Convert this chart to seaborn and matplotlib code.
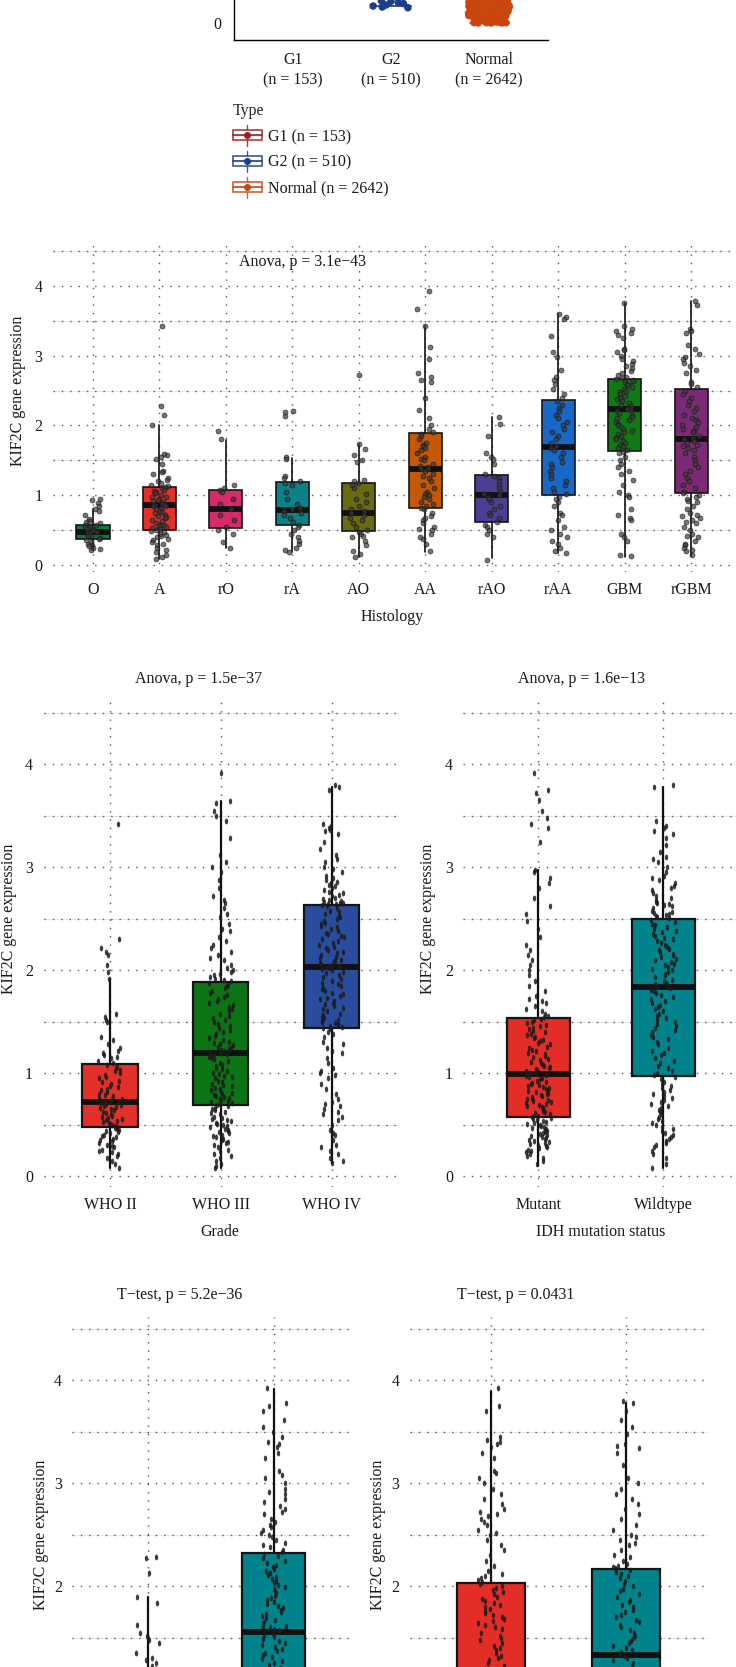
import numpy as np
import pandas as pd
import matplotlib
matplotlib.use('Agg')
import matplotlib.pyplot as plt
import seaborn as sns
from matplotlib.path import Path
from matplotlib.transforms import Affine2D
from matplotlib.legend_handler import HandlerBase
from matplotlib.lines import Line2D
from matplotlib.patches import Rectangle

# ---------------- data ----------------
top_names = ['G1', 'G2', 'Normal']
top_counts = [153, 510, 2642]
top_colors = ['#9b1c1f', '#1c3c8c', '#c9460f']
top_q1 = [1.8, 1.6, 0.9]
top_med = [2.6, 2.5, 1.6]
top_q3 = [3.6, 3.5, 2.6]
top_lo = [1.1, 0.5, 0.0]
top_hi = [6.0, 6.0, 4.5]
top_g1 = [1.2, 1.5, 1.8, 2.2, 2.6, 3.0, 3.5, 4.2]
top_g2 = [0.65, 0.64, 0.6, 0.57, 0.53, 0.5, 0.47, 0.45, 0.9, 1.2, 1.6, 2.0, 2.5, 3.0]
top_normal = [0.0, 0.0, 0.01, 0.01, 0.02, 0.02, 0.03, 0.04, 0.04, 0.05, 0.06, 0.07, 0.08, 0.09,
              0.1, 0.11, 0.12, 0.13, 0.14, 0.15, 0.16, 0.17, 0.18, 0.19, 0.2, 0.21, 0.22, 0.23,
              0.24, 0.25, 0.26, 0.27, 0.28, 0.29, 0.3, 0.31, 0.32, 0.33, 0.34, 0.35, 0.36, 0.37,
              0.38, 0.39, 0.4, 0.41, 0.42, 0.43, 0.44, 0.45, 0.46, 0.47, 0.48, 0.49, 0.5, 0.51,
              0.52, 0.53, 0.54, 0.55, 0.56, 0.57, 0.58, 0.59, 0.6, 0.61, 0.62, 0.63, 0.64, 0.65,
              0.66, 0.67, 0.68, 0.69, 0.7, 0.71, 0.72, 0.73, 0.74, 0.75, 0.0, 0.03, 0.06, 0.1,
              0.14, 0.18, 0.22, 0.26, 0.3, 0.34, 0.38, 0.42, 0.46, 0.5, 0.54, 0.58, 0.62, 0.66,
              0.7, 0.74, 0.02, 0.08, 0.16, 0.24, 0.32, 0.44, 0.52, 0.64, 0.72, 0.8, 0.9, 1.0,
              0.01, 0.05, 0.09, 0.13, 0.17, 0.21, 0.25, 0.29, 0.33, 0.37, 0.41, 0.45, 0.49, 0.53,
              0.57, 0.61, 0.65, 0.69, 0.73, 0.04, 0.12, 0.2, 0.28, 0.36, 0.48, 0.56, 0.6, 0.68]

hist_names = ['O', 'A', 'rO', 'rA', 'AO', 'AA', 'rAO', 'rAA', 'GBM', 'rGBM']
hist_colors = ['#0a7a3c', '#e3302a', '#d62a6a', '#0c8189', '#6a6a12',
               '#c45807', '#4b3f93', '#1868c8', '#0f7a14', '#7c2a76']
hist_q1 = [0.37, 0.50, 0.53, 0.57, 0.49, 0.82, 0.62, 1.00, 1.63, 1.03]
hist_med = [0.48, 0.86, 0.80, 0.79, 0.75, 1.37, 1.01, 1.69, 2.23, 1.80]
hist_q3 = [0.58, 1.12, 1.07, 1.19, 1.18, 1.89, 1.29, 2.37, 2.66, 2.52]
hist_lo = [0.21, 0.08, 0.25, 0.19, 0.12, 0.19, 0.10, 0.17, 0.12, 0.13]
hist_hi = [0.80, 2.00, 1.79, 1.53, 1.74, 3.43, 2.12, 3.60, 3.75, 3.78]
hist_O = [0.95, 0.93, 0.89, 0.85, 0.80, 0.78, 0.72, 0.66, 0.63, 0.62, 0.60, 0.58, 0.57, 0.55,
          0.54, 0.52, 0.51, 0.50, 0.49, 0.48, 0.47, 0.46, 0.45, 0.44, 0.42, 0.41, 0.39, 0.38,
          0.36, 0.33, 0.30, 0.28, 0.27, 0.25, 0.23, 0.21]
hist_A = [3.42, 2.28, 2.15, 2.0, 1.59, 1.57, 1.55, 1.52, 1.45, 1.35, 1.33, 1.30, 1.25, 1.22,
          1.20, 1.18, 1.15, 1.13, 1.12, 1.10, 1.08, 1.06, 1.05, 1.03, 1.0, 0.98, 0.97, 0.95,
          0.93, 0.92, 0.90, 0.88, 0.87, 0.86, 0.86, 0.85, 0.84, 0.82, 0.80, 0.78, 0.76, 0.74,
          0.72, 0.70, 0.69, 0.67, 0.65, 0.63, 0.60, 0.58, 0.57, 0.56, 0.55, 0.53, 0.52, 0.50,
          0.49, 0.47, 0.45, 0.43, 0.42, 0.40, 0.38, 0.36, 0.33, 0.30, 0.28, 0.25, 0.22, 0.18,
          0.15, 0.12, 0.08]
hist_rO = [1.92, 1.80, 1.15, 1.10, 1.08, 1.05, 0.95, 0.88, 0.80, 0.72, 0.65, 0.55, 0.50, 0.45,
           0.33, 0.25]
hist_rA = [2.20, 2.19, 2.14, 1.55, 1.52, 1.28, 1.25, 1.20, 1.18, 1.15, 1.05, 0.95, 0.88, 0.82,
           0.80, 0.78, 0.75, 0.72, 0.68, 0.62, 0.58, 0.55, 0.50, 0.45, 0.40, 0.35, 0.30, 0.25,
           0.22, 0.19]
hist_AO = [2.73, 1.74, 1.66, 1.58, 1.50, 1.48, 1.22, 1.20, 1.18, 1.15, 1.10, 1.02, 0.95, 0.90,
           0.85, 0.80, 0.77, 0.75, 0.72, 0.68, 0.65, 0.60, 0.55, 0.50, 0.48, 0.45, 0.42, 0.40,
           0.35, 0.28, 0.20, 0.16, 0.12]
hist_AA = [3.92, 3.67, 3.43, 3.12, 2.95, 2.75, 2.70, 2.65, 2.62, 2.40, 2.22, 2.10, 2.0, 1.95,
           1.90, 1.88, 1.85, 1.80, 1.75, 1.72, 1.70, 1.68, 1.65, 1.60, 1.55, 1.52, 1.50, 1.45,
           1.42, 1.40, 1.38, 1.37, 1.35, 1.30, 1.28, 1.25, 1.20, 1.15, 1.10, 1.05, 1.02, 1.0,
           0.98, 0.95, 0.90, 0.88, 0.85, 0.82, 0.80, 0.75, 0.70, 0.68, 0.65, 0.60, 0.55, 0.52,
           0.50, 0.45, 0.40, 0.38, 0.30, 0.20]
hist_rAO = [2.12, 2.02, 1.85, 1.60, 1.55, 1.52, 1.45, 1.30, 1.28, 1.25, 1.20, 1.15, 1.10, 1.05,
            1.02, 1.0, 0.98, 0.95, 0.90, 0.85, 0.80, 0.75, 0.72, 0.68, 0.62, 0.58, 0.55, 0.50,
            0.45, 0.40, 0.07]
hist_rAA = [3.60, 3.55, 3.52, 3.28, 3.05, 2.98, 2.80, 2.70, 2.65, 2.60, 2.52, 2.45, 2.40, 2.35,
            2.30, 2.25, 2.20, 2.15, 2.10, 2.05, 2.0, 1.95, 1.90, 1.85, 1.80, 1.75, 1.70, 1.68,
            1.65, 1.60, 1.55, 1.48, 1.45, 1.40, 1.35, 1.30, 1.25, 1.20, 1.15, 1.10, 1.05, 1.02,
            0.98, 0.95, 0.90, 0.85, 0.75, 0.72, 0.65, 0.55, 0.50, 0.45, 0.40, 0.35, 0.30, 0.25,
            0.20, 0.17]
hist_GBM = [3.75, 3.42, 3.38, 3.35, 3.32, 3.30, 3.25, 3.10, 3.08, 3.05, 3.0, 2.95, 2.92, 2.88,
            2.85, 2.82, 2.78, 2.75, 2.72, 2.70, 2.68, 2.66, 2.65, 2.63, 2.62, 2.60, 2.58, 2.55,
            2.52, 2.50, 2.48, 2.45, 2.42, 2.40, 2.38, 2.35, 2.32, 2.30, 2.28, 2.25, 2.23, 2.22,
            2.20, 2.18, 2.15, 2.12, 2.10, 2.08, 2.05, 2.02, 2.0, 1.98, 1.95, 1.92, 1.90, 1.88,
            1.85, 1.82, 1.80, 1.78, 1.75, 1.72, 1.70, 1.68, 1.65, 1.62, 1.60, 1.55, 1.50, 1.45,
            1.40, 1.35, 1.30, 1.22, 1.15, 1.05, 1.0, 0.98, 0.80, 0.72, 0.68, 0.65, 0.45, 0.40,
            0.35, 0.15, 0.13]
hist_rGBM = [3.78, 3.72, 3.38, 3.35, 3.32, 3.15, 3.10, 3.02, 2.98, 2.95, 2.90, 2.85, 2.80, 2.75,
             2.62, 2.60, 2.55, 2.50, 2.45, 2.40, 2.35, 2.30, 2.25, 2.20, 2.15, 2.10, 2.08, 2.05,
             2.0, 1.98, 1.95, 1.92, 1.90, 1.85, 1.82, 1.80, 1.78, 1.75, 1.72, 1.70, 1.68, 1.65,
             1.60, 1.55, 1.50, 1.45, 1.40, 1.35, 1.30, 1.25, 1.20, 1.15, 1.10, 1.05, 1.03, 1.0,
             0.98, 0.95, 0.92, 0.90, 0.85, 0.80, 0.75, 0.72, 0.70, 0.68, 0.65, 0.62, 0.60, 0.55,
             0.50, 0.45, 0.42, 0.40, 0.35, 0.30, 0.28, 0.25, 0.22, 0.20, 0.15]
hist_values = [hist_O, hist_A, hist_rO, hist_rA, hist_AO, hist_AA, hist_rAO, hist_rAA,
               hist_GBM, hist_rGBM]

grade_names = ['WHO II', 'WHO III', 'WHO IV']
grade_colors = ['#e3302a', '#0b7414', '#2a4c9c']
grade_q1 = [0.48, 0.69, 1.44]
grade_med = [0.72, 1.20, 2.03]
grade_q3 = [1.09, 1.89, 2.63]
grade_lo = [0.08, 0.08, 0.13]
grade_hi = [1.92, 3.64, 3.78]
who2 = [3.42, 2.30, 2.22, 2.18, 2.15, 2.05, 1.98, 1.92, 1.58, 1.55, 1.52, 1.50, 1.35, 1.32,
        1.28, 1.25, 1.22, 1.20, 1.18, 1.16, 1.15, 1.12, 1.10, 1.08, 1.06, 1.05, 1.03, 1.02,
        1.0, 0.98, 0.96, 0.95, 0.93, 0.92, 0.90, 0.88, 0.87, 0.85, 0.84, 0.82, 0.80, 0.79,
        0.78, 0.76, 0.75, 0.74, 0.73, 0.72, 0.71, 0.70, 0.69, 0.68, 0.67, 0.66, 0.65, 0.64,
        0.62, 0.61, 0.60, 0.59, 0.58, 0.57, 0.56, 0.55, 0.54, 0.53, 0.52, 0.51, 0.50, 0.49,
        0.48, 0.47, 0.46, 0.45, 0.44, 0.43, 0.42, 0.40, 0.39, 0.38, 0.36, 0.35, 0.34, 0.32,
        0.30, 0.29, 0.28, 0.26, 0.25, 0.24, 0.22, 0.20, 0.18, 0.15, 0.12, 0.08]
who3 = [3.92, 3.64, 3.62, 3.55, 3.50, 3.45, 3.28, 3.12, 3.05, 3.0, 2.95, 2.88, 2.80, 2.72,
        2.68, 2.65, 2.60, 2.55, 2.52, 2.45, 2.40, 2.38, 2.32, 2.28, 2.25, 2.22, 2.18, 2.15,
        2.12, 2.10, 2.05, 2.02, 2.0, 1.98, 1.96, 1.95, 1.93, 1.92, 1.91, 1.90,
        1.88, 1.86, 1.85, 1.83, 1.80, 1.78, 1.76, 1.74, 1.72, 1.70, 1.68, 1.66, 1.64, 1.62,
        1.60, 1.58, 1.56, 1.54, 1.52, 1.50, 1.48, 1.46, 1.44, 1.42, 1.40, 1.38, 1.36, 1.34,
        1.32, 1.30, 1.29, 1.28, 1.27, 1.26, 1.25, 1.24, 1.23, 1.22, 1.21, 1.20,
        1.19, 1.18, 1.17, 1.16, 1.15, 1.14, 1.12, 1.10, 1.08, 1.07, 1.05, 1.04, 1.02, 1.0,
        0.99, 0.97, 0.96, 0.95, 0.93, 0.92, 0.90, 0.89, 0.88, 0.86, 0.85, 0.84, 0.82, 0.81,
        0.80, 0.79, 0.78, 0.77, 0.76, 0.75, 0.74, 0.73, 0.72, 0.71, 0.70, 0.69,
        0.68, 0.66, 0.65, 0.64, 0.62, 0.61, 0.60, 0.58, 0.57, 0.56, 0.55, 0.54, 0.52, 0.51,
        0.50, 0.49, 0.48, 0.46, 0.45, 0.44, 0.43, 0.42, 0.40, 0.39, 0.38, 0.36, 0.35, 0.33,
        0.32, 0.30, 0.28, 0.26, 0.25, 0.22, 0.20, 0.18, 0.15, 0.12, 0.10, 0.08]
who4 = [3.80, 3.78, 3.75, 3.42, 3.40, 3.38, 3.36, 3.35, 3.32, 3.25, 3.18, 3.12, 3.08, 3.05,
        3.0, 2.98, 2.95, 2.92, 2.90, 2.88, 2.86, 2.85, 2.83, 2.82, 2.80, 2.78, 2.76, 2.75,
        2.73, 2.72, 2.70, 2.69, 2.68, 2.67, 2.66, 2.65, 2.65, 2.64, 2.64, 2.63,
        2.62, 2.60, 2.58, 2.57, 2.55, 2.53, 2.52, 2.50, 2.48, 2.46, 2.45, 2.43, 2.42, 2.40,
        2.38, 2.36, 2.35, 2.33, 2.32, 2.30, 2.28, 2.26, 2.25, 2.23, 2.22, 2.20, 2.18, 2.17,
        2.15, 2.13, 2.12, 2.10, 2.09, 2.08, 2.07, 2.06, 2.05, 2.04, 2.04, 2.03,
        2.02, 2.01, 2.0, 1.98, 1.97, 1.95, 1.93, 1.92, 1.90, 1.88, 1.87, 1.85, 1.83, 1.82,
        1.80, 1.78, 1.77, 1.75, 1.73, 1.72, 1.70, 1.68, 1.67, 1.65, 1.63, 1.62, 1.60, 1.58,
        1.57, 1.55, 1.54, 1.52, 1.51, 1.50, 1.49, 1.48, 1.47, 1.46, 1.45, 1.44,
        1.43, 1.40, 1.38, 1.35, 1.30, 1.28, 1.25, 1.22, 1.20, 1.15, 1.10, 1.05, 1.02, 1.0,
        0.98, 0.95, 0.90, 0.85, 0.80, 0.75, 0.72, 0.70, 0.68, 0.65, 0.62, 0.60, 0.58, 0.55,
        0.50, 0.45, 0.42, 0.40, 0.35, 0.30, 0.28, 0.25, 0.22, 0.18, 0.15, 0.13]
grade_values = [who2, who3, who4]

idh_names = ['Mutant', 'Wildtype']
idh_colors = ['#e32d26', '#00838a']
idh_q1 = [0.58, 0.97]
idh_med = [0.99, 1.84]
idh_q3 = [1.54, 2.50]
idh_lo = [0.10, 0.08]
idh_hi = [2.97, 3.78]
idh_mut = [3.92, 3.75, 3.72, 3.65, 3.55, 3.48, 3.42, 3.38, 3.25, 2.97, 2.95, 2.90, 2.85, 2.80,
           2.70, 2.62, 2.55, 2.48, 2.40, 2.32, 2.25, 2.20, 2.15, 2.10, 2.05, 2.0, 1.95, 1.90,
           1.85, 1.80, 1.75, 1.72, 1.70, 1.68, 1.65, 1.62, 1.60, 1.58, 1.56, 1.55,
           1.53, 1.52, 1.50, 1.49, 1.47, 1.46, 1.44, 1.43, 1.41, 1.40, 1.38, 1.37, 1.35, 1.34,
           1.32, 1.31, 1.29, 1.28, 1.26, 1.25, 1.23, 1.22, 1.20, 1.19, 1.17, 1.16, 1.14, 1.13,
           1.11, 1.10, 1.08, 1.07, 1.06, 1.05, 1.04, 1.03, 1.02, 1.01, 1.00, 0.99,
           0.98, 0.97, 0.96, 0.95, 0.94, 0.93, 0.92, 0.91, 0.90, 0.89, 0.88, 0.87, 0.86, 0.85,
           0.84, 0.83, 0.82, 0.81, 0.80, 0.79, 0.78, 0.77, 0.76, 0.75, 0.74, 0.73, 0.72, 0.71,
           0.70, 0.69, 0.68, 0.67, 0.66, 0.65, 0.64, 0.63, 0.62, 0.61, 0.60, 0.59,
           0.58, 0.57, 0.56, 0.55, 0.54, 0.53, 0.52, 0.51, 0.50, 0.49, 0.48, 0.47, 0.46, 0.45,
           0.44, 0.43, 0.42, 0.41, 0.40, 0.39, 0.38, 0.37, 0.36, 0.35, 0.34, 0.33, 0.32, 0.31,
           0.30, 0.29, 0.28, 0.27, 0.26, 0.25, 0.24, 0.22, 0.20, 0.18, 0.15, 0.12]
idh_wt = [3.80, 3.78, 3.45, 3.40, 3.38, 3.35, 3.32, 3.28, 3.22, 3.15, 3.10, 3.08, 3.05, 3.0,
          2.95, 2.92, 2.90, 2.88, 2.85, 2.82, 2.80, 2.78, 2.75, 2.72, 2.70, 2.68, 2.66, 2.65,
          2.64, 2.63, 2.62, 2.60, 2.58, 2.57, 2.56, 2.55, 2.54, 2.53, 2.52, 2.51,
          2.49, 2.47, 2.45, 2.44, 2.42, 2.40, 2.38, 2.37, 2.35, 2.33, 2.31, 2.30, 2.28, 2.26,
          2.25, 2.23, 2.21, 2.20, 2.18, 2.16, 2.15, 2.13, 2.11, 2.10, 2.08, 2.06, 2.05, 2.03,
          2.01, 2.0, 1.98, 1.96, 1.95, 1.93, 1.91, 1.90, 1.88, 1.87, 1.86, 1.85,
          1.83, 1.81, 1.80, 1.78, 1.76, 1.74, 1.72, 1.70, 1.68, 1.66, 1.64, 1.62, 1.60, 1.58,
          1.56, 1.54, 1.52, 1.50, 1.48, 1.46, 1.44, 1.42, 1.40, 1.37, 1.35, 1.33, 1.30, 1.28,
          1.25, 1.22, 1.20, 1.18, 1.15, 1.12, 1.10, 1.07, 1.05, 1.02, 1.0, 0.98,
          0.96, 0.94, 0.92, 0.90, 0.88, 0.86, 0.84, 0.82, 0.80, 0.78, 0.76, 0.74, 0.72, 0.70,
          0.68, 0.66, 0.64, 0.62, 0.60, 0.58, 0.56, 0.54, 0.52, 0.50, 0.48, 0.46, 0.44, 0.42,
          0.40, 0.38, 0.36, 0.34, 0.32, 0.30, 0.28, 0.25, 0.22, 0.18, 0.12, 0.08]
idh_values = [idh_mut, idh_wt]

codel_names = ['Codel', 'Non-codel']
codel_colors = ['#e32d26', '#00838a']
codel_q1 = [0.50, 0.95]
codel_med = [0.75, 1.56]
codel_q3 = [1.10, 2.32]
codel_lo = [0.15, 0.10]
codel_hi = [1.90, 3.92]
codel_a = [2.28, 2.27, 2.13, 1.90, 1.84, 1.62, 1.55, 1.52, 1.50, 1.48, 1.45, 1.35, 1.30, 1.28,
           1.25, 1.22, 1.20, 1.18, 1.15, 1.12, 1.10, 1.08, 1.05, 1.0, 0.98, 0.95, 0.92, 0.9,
           0.88, 0.85, 0.82, 0.8, 0.78, 0.75, 0.72, 0.7, 0.68, 0.65, 0.62, 0.6, 0.58, 0.55,
           0.52, 0.5, 0.48, 0.45, 0.42, 0.4, 0.38, 0.35, 0.3, 0.25, 0.2]
codel_b = [3.93, 3.78, 3.75, 3.70, 3.62, 3.55, 3.50, 3.45, 3.40, 3.38, 3.35, 3.30, 3.25, 3.12,
           3.08, 3.05, 3.0, 2.95, 2.92, 2.90, 2.85, 2.82, 2.78, 2.75, 2.72, 2.70, 2.65, 2.62,
           2.60, 2.58, 2.55, 2.52, 2.50, 2.48, 2.45, 2.42, 2.40, 2.38, 2.35, 2.33,
           2.31, 2.29, 2.27, 2.25, 2.23, 2.21, 2.19, 2.17, 2.15, 2.13, 2.11, 2.09, 2.07, 2.05,
           2.03, 2.01, 1.99, 1.97, 1.95, 1.93, 1.91, 1.89, 1.87, 1.85, 1.83, 1.81, 1.79, 1.77,
           1.75, 1.73, 1.71, 1.69, 1.67, 1.65, 1.63, 1.61, 1.60, 1.59, 1.58, 1.57,
           1.55, 1.53, 1.51, 1.49, 1.47, 1.45, 1.43, 1.41, 1.39, 1.37, 1.35, 1.33, 1.31, 1.29,
           1.27, 1.25, 1.23, 1.21, 1.19, 1.15, 1.1, 1.05, 1.0, 0.95, 0.9, 0.8, 0.7, 0.6, 0.5, 0.4]
codel_values = [codel_a, codel_b]

rec_names = ['Primary', 'Recurrent']
rec_colors = ['#e32d26', '#00838a']
rec_q1 = [0.60, 0.75]
rec_med = [1.15, 1.33]
rec_q3 = [2.03, 2.17]
rec_lo = [0.10, 0.10]
rec_hi = [3.90, 3.78]
rec_a = [3.93, 3.75, 3.70, 3.45, 3.42, 3.40, 3.38, 3.35, 3.30, 3.25, 3.12, 3.10, 3.05, 3.0,
         2.95, 2.90, 2.85, 2.80, 2.75, 2.72, 2.70, 2.68, 2.65, 2.62, 2.60, 2.55, 2.52, 2.50,
         2.45, 2.40, 2.35, 2.30, 2.25, 2.20, 2.15, 2.12, 2.10, 2.08, 2.06, 2.04,
         2.02, 2.0, 1.98, 1.96, 1.94, 1.92, 1.90, 1.88, 1.86, 1.84, 1.82, 1.80, 1.78, 1.76,
         1.74, 1.72, 1.70, 1.68, 1.66, 1.64, 1.62, 1.60, 1.58, 1.55, 1.52, 1.50, 1.48, 1.45,
         1.42, 1.40, 1.38, 1.35, 1.32, 1.30, 1.28, 1.25, 1.22, 1.20, 1.15, 1.1,
         1.0, 0.9, 0.8, 0.7, 0.6]
rec_b = [3.80, 3.78, 3.70, 3.62, 3.55, 3.48, 3.38, 3.36, 3.34, 3.30, 3.18, 3.05, 3.0, 2.95,
         2.90, 2.85, 2.80, 2.75, 2.70, 2.65, 2.60, 2.55, 2.50, 2.48, 2.45, 2.42, 2.40, 2.35,
         2.30, 2.28, 2.25, 2.22, 2.20, 2.19, 2.18,
         2.16, 2.14, 2.12, 2.10, 2.08, 2.05, 2.02, 2.0, 1.97, 1.95, 1.92, 1.90, 1.87, 1.85,
         1.82, 1.80, 1.77, 1.75, 1.72, 1.70, 1.67, 1.65, 1.62, 1.60, 1.57, 1.55, 1.52, 1.50,
         1.47, 1.45, 1.42, 1.40, 1.38, 1.36, 1.34,
         1.32, 1.30, 1.28, 1.25, 1.22, 1.2, 1.1, 1.0, 0.9, 0.8, 0.7, 0.6, 0.5]
rec_values = [rec_a, rec_b]

# ---------------- setup ----------------
sns.set_style('white')
plt.rcParams['font.family'] = ['Liberation Serif', 'DejaVu Serif']
plt.rcParams['font.size'] = 11.5
np.random.seed(7)

W, H = 736, 1667
fig = plt.figure(figsize=(W / 100, H / 100), dpi=100)
FS = 11.5
TXT = '#1a1a1a'


def add_ax(left, right, top, bottom):
    return fig.add_axes([left / W, 1 - bottom / H, (right - left) / W, (bottom - top) / H])


def ftext(x, y, s, **kw):
    fig.text(x / W, 1 - y / H, s, ha='center', va='center', fontsize=FS, color=TXT, **kw)


def long_frame(names, values):
    return pd.DataFrame({'group': [n for n, v in zip(names, values) for _ in v],
                         'value': [x for v in values for x in v]})


def box_stats(q1, med, q3, lo, hi):
    return [dict(q1=a, med=b, q3=c, whislo=d, whishi=e, fliers=[])
            for a, b, c, d, e in zip(q1, med, q3, lo, hi)]


ell = Path.unit_circle().transformed(Affine2D().scale(0.58, 1.0))
GRID = dict(linestyle=(0, (1, 5)), color='#555555', linewidth=1.0)


def dotted_panel(ax, names, colors, stats, values, jitter, point_kw, box_lw, ylim,
                 yticks=(0, 1, 2, 3, 4), show_x=True):
    n = len(names)
    bp = ax.bxp(stats, positions=range(n), widths=0.5, patch_artist=True, showcaps=False,
                showfliers=False, manage_ticks=False,
                boxprops=dict(edgecolor='#151515', linewidth=box_lw),
                medianprops=dict(color='#111111', linewidth=4.2, solid_capstyle='butt'),
                whiskerprops=dict(color='#111111', linewidth=box_lw))
    for patch, c in zip(bp['boxes'], colors):
        patch.set_facecolor(c)
        patch.set_zorder(2)
    for ln in bp['medians'] + bp['whiskers']:
        ln.set_zorder(2.5)
    sns.stripplot(data=long_frame(names, values), x='group', y='value', order=names,
                  jitter=jitter, ax=ax, zorder=3, **point_kw)
    ax.set_xlim(-0.6, n - 0.4)
    ax.set_ylim(*ylim)
    ax.set_xticks(range(n))
    ax.set_xticklabels(names if show_x else [])
    ax.set_yticks(list(yticks))
    ax.set_yticks([0.5, 1.5, 2.5, 3.5, 4.5], minor=True)
    for y in [0.5, 1.5, 2.5, 3.5, 4.5]:
        ax.axhline(y, color='#e6e6e6', linewidth=0.7, zorder=0)
    ax.xaxis.grid(True, which='major', **GRID)
    ax.yaxis.grid(True, which='both', **GRID)
    ax.set_axisbelow(True)
    for s in ax.spines.values():
        s.set_visible(False)
    ax.tick_params(which='major', length=3.5, width=0.8, color='#333333', pad=4,
                   labelsize=FS, labelcolor=TXT)
    ax.tick_params(which='minor', length=0)
    ax.set_xlabel('')
    ax.set_ylabel('')


round_pts = dict(marker='o', size=3.6, color='#3a3a3a', alpha=0.7, edgecolor='#111111',
                 linewidth=0.5)
oval_pts = dict(marker=ell, size=4.2, color='#1c1c1c', alpha=0.85, linewidth=0)
YL = (-0.1, 4.62)

# ---------------- top (cropped) panel ----------------
ax0 = add_ax(234, 548, -334, 40)
bp0 = ax0.bxp(box_stats(top_q1, top_med, top_q3, top_lo, top_hi), positions=range(3),
              widths=0.5, patch_artist=True, showfliers=False, manage_ticks=False,
              capwidths=0.4)
for i, c in enumerate(top_colors):
    bp0['boxes'][i].set(facecolor='white', edgecolor=c, linewidth=1.2)
    bp0['medians'][i].set(color=c, linewidth=1.2)
    for ln in bp0['whiskers'][2 * i:2 * i + 2] + bp0['caps'][2 * i:2 * i + 2]:
        ln.set(color=c, linewidth=1.2)
top_df = long_frame(top_names, [top_g1, top_g2, top_normal])
sns.stripplot(data=top_df, x='group', y='value', order=top_names, hue='group',
              palette=dict(zip(top_names, top_colors)), jitter=0.21, size=5.4,
              linewidth=0, legend=False, ax=ax0, zorder=3)
ax0.set_xlim(-0.6, 2.6)
ax0.set_ylim(-0.5, 10.5)
ax0.set_yticks([0])
ax0.set_xticks(range(3))
ax0.set_xticklabels([f'{n}\n(n = {k})' for n, k in zip(top_names, top_counts)],
                    linespacing=1.35)
for s in ['top', 'right']:
    ax0.spines[s].set_visible(False)
for s in ['left', 'bottom']:
    ax0.spines[s].set(color='black', linewidth=1.0)
ax0.tick_params(length=4, width=0.9, color='black', pad=5, labelsize=FS, labelcolor=TXT)
ax0.set_xlabel('')
ax0.set_ylabel('')


class BoxKey(HandlerBase):
    def create_artists(self, legend, orig_handle, xdescent, ydescent, width, height,
                       fontsize, trans):
        c = orig_handle.get_color()
        x0, y0 = -xdescent, -ydescent
        cx, cy = x0 + width / 2, y0 + height / 2
        wh = Line2D([cx, cx], [y0 - 0.35 * height, y0 + 1.35 * height], color=c, lw=1.0,
                    alpha=0.85, transform=trans)
        rect = Rectangle((x0, y0 + 0.1 * height), width, 0.8 * height, facecolor='white',
                         edgecolor=c, lw=1.2, alpha=0.85, transform=trans)
        med = Line2D([x0, x0 + width], [cy, cy], color=c, lw=1.2, transform=trans)
        dot = Line2D([cx], [cy], marker='o', markersize=4, color=c, linewidth=0,
                     transform=trans)
        return [wh, rect, med, dot]


handles = [Line2D([], [], color=c, label=f'{n} (n = {k})')
           for n, k, c in zip(top_names, top_counts, top_colors)]
fig.legend(handles=handles, title='Type', loc='upper left',
           bbox_to_anchor=(233 / W, 1 - 103 / H), frameon=False,
           handler_map={Line2D: BoxKey()}, handlelength=1.8, handleheight=0.8,
           handletextpad=0.4, labelspacing=0.62, borderpad=0, borderaxespad=0,
           alignment='left', fontsize=FS, title_fontsize=FS, labelcolor=TXT)

# ---------------- histology ----------------
ax1 = add_ax(53, 731, 244, 572)
dotted_panel(ax1, hist_names, hist_colors,
             box_stats(hist_q1, hist_med, hist_q3, hist_lo, hist_hi), hist_values,
             0.13, round_pts, 1.2, (-0.1, 4.6))
ax1.text(2.2, 4.34, 'Anova, p = 3.1e\u221243', ha='left', va='center', fontsize=FS,
         color=TXT)
ftext(18, 391, 'KIF2C gene expression', rotation=90)
ftext(392, 617, 'Histology')

# ---------------- grade ----------------
ax2 = add_ax(43.5, 398, 700.4, 1186.6)
dotted_panel(ax2, grade_names, grade_colors,
             box_stats(grade_q1, grade_med, grade_q3, grade_lo, grade_hi), grade_values,
             0.11, oval_pts, 1.6, YL)
ftext(199, 679, 'Anova, p = 1.5e\u221237')
ftext(9, 919, 'KIF2C gene expression', rotation=90)
ftext(220, 1232, 'Grade')

# ---------------- IDH ----------------
ax3 = add_ax(463.3, 738.3, 700.4, 1186.6)
dotted_panel(ax3, idh_names, idh_colors,
             box_stats(idh_q1, idh_med, idh_q3, idh_lo, idh_hi), idh_values,
             0.1, oval_pts, 1.6, YL)
ftext(581, 679, 'Anova, p = 1.6e\u221213')
ftext(428.5, 919, 'KIF2C gene expression', rotation=90)
ftext(601, 1232, 'IDH mutation status')

# ---------------- bottom left (cropped) ----------------
ax4 = add_ax(72.3, 349, 1316.7, 1802.3)
dotted_panel(ax4, codel_names, codel_colors,
             box_stats(codel_q1, codel_med, codel_q3, codel_lo, codel_hi), codel_values,
             0.1, oval_pts, 1.6, YL, yticks=(2, 3, 4), show_x=False)
ftext(180, 1295, 'T\u2212test, p = 5.2e\u221236')
ftext(41, 1535, 'KIF2C gene expression', rotation=90)

# ---------------- bottom right (cropped) ----------------
ax5 = add_ax(410, 707, 1316.7, 1802.3)
dotted_panel(ax5, rec_names, rec_colors,
             box_stats(rec_q1, rec_med, rec_q3, rec_lo, rec_hi), rec_values,
             0.1, oval_pts, 1.6, YL, yticks=(2, 3, 4), show_x=False)
ftext(516, 1295, 'T\u2212test, p = 0.0431')
ftext(378, 1535, 'KIF2C gene expression', rotation=90)

fig.savefig('out.png', dpi=100, facecolor='white')
